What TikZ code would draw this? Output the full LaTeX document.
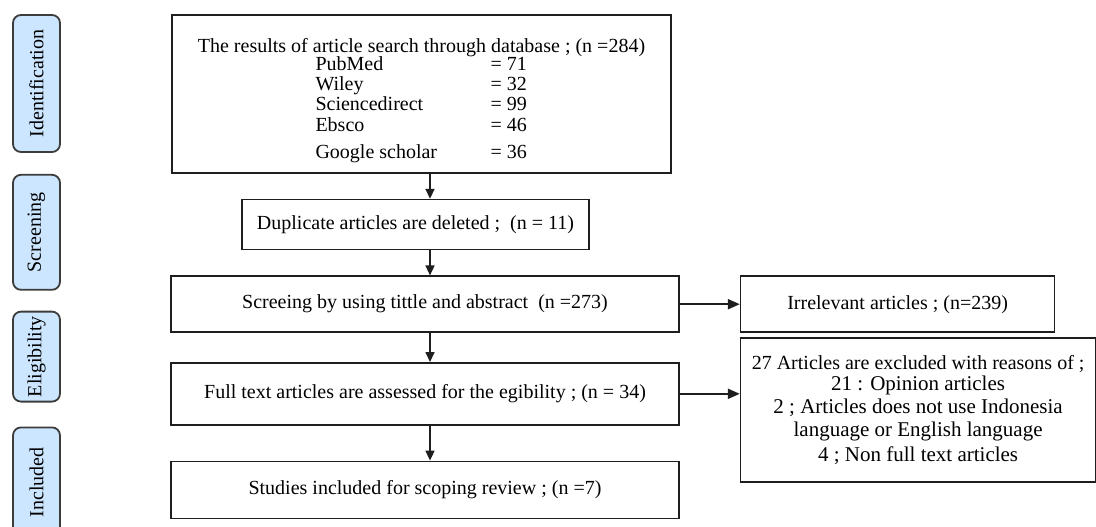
\documentclass[tikz,border=0pt]{standalone}
\usepackage{fontspec}
\setmainfont{Liberation Serif}
\usepackage{graphicx}
\usetikzlibrary{
  arrows.meta,
  positioning
}
\definecolor{phaseblue}{RGB}{204,230,255}
\definecolor{phaseedge}{RGB}{60,60,60}
\definecolor{boxedge}{RGB}{30,30,30}

\tikzset{
  phase/.style={draw=phaseedge, fill=phaseblue, line width=0.9pt, rounded corners=4pt,
        minimum width=23.5pt, inner sep=0pt, font=\fontsize{10}{12}\selectfont},
  flowbox/.style={draw=boxedge, line width=0.8pt, inner sep=0pt, align=center,
        font=\fontsize{10}{12}\selectfont},
  flowarrow/.style={-{Triangle[length=5pt,width=4.5pt]}, line width=0.8pt, draw=boxedge},
  sidearrow/.style={-{Triangle[length=6pt,width=5pt]}, line width=1pt, draw=boxedge}
}
\newcommand{\dbrow}[2]{\makebox[106pt][l]{\makebox[87.5pt][l]{#1}= #2}}

\begin{document}
\begin{tikzpicture}
  \useasboundingbox (0,0) rectangle (548pt,-263pt);
  % Phase labels
  \node[phase, minimum height=68.5pt] (ident) at (18.25pt,-41.75pt) {\rotatebox{90}{Identification}};
  \node[phase, minimum height=57.5pt, below=10.5pt of ident] (screening) {\rotatebox{90}{Screening}};
  \node[phase, minimum height=45pt, below=10pt of screening] (eligible) {\rotatebox{90}{Eligibility}};
  \node[phase, minimum height=55pt, below=12pt of eligible] (included) {\rotatebox{90}{Included}};
  % Search results
  \node[flowbox, minimum width=249.5pt, minimum height=79pt,
        font=\fontsize{10}{10}\selectfont] (search) at (210.75pt,-47pt)
        {\rule{0pt}{14pt}The results of article search through database ; (n =284)\\[-1pt]
         \dbrow{PubMed}{71}\\
         \dbrow{Wiley}{32}\\
         \dbrow{Sciencedirect}{99}\\[0.5pt]
         \dbrow{Ebsco}{46}\\[3.5pt]
         \dbrow{Google scholar}{36}};
  % Main flow
  \node[flowbox, minimum width=173.5pt, minimum height=25pt,
        below=12.5pt of search, xshift=-3pt] (dup)
        {Duplicate articles are deleted ;\ \ (n = 11)};
  \node[flowbox, minimum width=254pt, minimum height=28pt,
        below=12.5pt of dup, xshift=4.75pt] (screen)
        {Screeing by using tittle and abstract\ \ (n =273)};
  \node[flowbox, minimum width=254pt, minimum height=31pt,
        below=14.5pt of screen] (fulltext)
        {Full text articles are assessed for the egibility ; (n = 34)};
  \node[flowbox, minimum width=254pt, minimum height=28.5pt,
        below=17.5pt of fulltext] (studies)
        {Studies included for scoping review ; (n =7)};
  % Excluded records
  \node[flowbox, minimum width=157pt, minimum height=28pt,
        right=30pt of screen] (irrel)
        {Irrelevant articles ; (n=239)};
  \node[flowbox, minimum width=177.5pt, minimum height=72pt,
        below=2pt of irrel.south west, anchor=north west,
        font=\fontsize{10.5}{11.5}\selectfont] (excl)
        {{\fontsize{10}{10}\selectfont 27 Articles are excluded with reasons of ;}\\[-1pt]
         21 : Opinion articles\\
         2 ; Articles does not use Indonesia\\
         language or English language\\[1pt]
         4 ; Non full text articles};
  % Arrows
  \coordinate (spine) at (215pt,0);
  \draw[flowarrow] (search.south -| spine) -- (dup.north -| spine);
  \draw[flowarrow] (dup.south -| spine) -- (screen.north -| spine);
  \draw[flowarrow] (screen.south -| spine) -- (fulltext.north -| spine);
  \draw[flowarrow] (fulltext.south -| spine) -- (studies.north -| spine);
  \draw[sidearrow] (screen.east) -- (irrel.west);
  \draw[sidearrow] (fulltext.east) -- (excl.west |- fulltext.east);
\end{tikzpicture}
\end{document}
